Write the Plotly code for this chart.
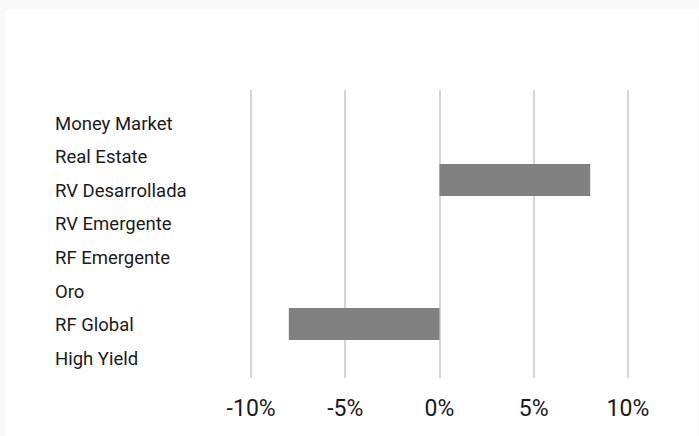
import plotly.graph_objects as go

categories = ["Money Market", "Real Estate", "RV Desarrollada", "RV Emergente",
              "RF Emergente", "Oro", "RF Global", "High Yield"]
values = [0, 0, 8, 0, 0, 0, -8, 0]
tick_vals = [-10, -5, 0, 5, 10]
tick_text = ["-10%", "-5%", "0%", "5%", "10%"]

W, H = 699, 436
L, R, T, B = 250, 70, 90, 58
pw, ph = W - L - R, H - T - B

def px_x(px):
    return (px - L) / pw

def px_y(py):
    return (H - B - py) / ph

fig = go.Figure(go.Bar(
    x=values, y=categories, orientation="h",
    marker=dict(color="#808080", line=dict(width=0)),
    width=0.89,
))

annotations = []
for i, c in enumerate(categories):
    annotations.append(dict(
        text=c, xref="paper", yref="paper",
        x=px_x(53), y=px_y(123.5 + i * 33.6),
        xanchor="left", yanchor="middle", showarrow=False,
        font=dict(family="Roboto", size=18.5, color="#1a1a1a"),
    ))

fig.update_layout(
    width=W, height=H,
    margin=dict(l=L, r=R, t=T, b=B, pad=0),
    paper_bgcolor="#f9f9f9",
    plot_bgcolor="rgba(0,0,0,0)",
    showlegend=False,
    annotations=annotations,
    shapes=[dict(type="rect", xref="paper", yref="paper", layer="below",
                 x0=px_x(5), x1=px_x(698), y0=px_y(436), y1=px_y(10),
                 fillcolor="white", line=dict(width=0))],
    xaxis=dict(range=[-10.06, 10.06], tickvals=tick_vals, ticktext=tick_text,
               showgrid=True, gridcolor="#d6d6d6", gridwidth=1.5,
               zeroline=False, showline=False, ticks="",
               ticklabelstandoff=14,
               tickfont=dict(family="Roboto", size=23, color="#1a1a1a")),
    yaxis=dict(categoryorder="array", categoryarray=categories,
               range=[7.5, -0.5], showgrid=False, zeroline=False,
               showticklabels=False, showline=False, ticks=""),
)

fig.write_html("out.html", config={"displayModeBar": False},
               post_script="document.body.style.margin='0px';document.body.style.overflow='hidden';")
